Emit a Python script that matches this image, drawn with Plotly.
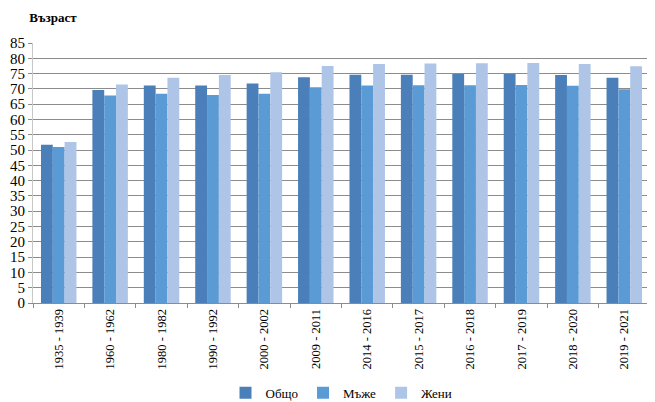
import plotly.graph_objects as go

# periods and life expectancy (years)
periods = ["1935 - 1939", "1960 - 1962", "1980 - 1982", "1990 - 1992",
           "2000 - 2002", "2009 - 2011", "2014 - 2016", "2015 - 2017",
           "2016 - 2018", "2017 - 2019", "2018 - 2020", "2019 - 2021"]
total = [51.7, 69.6, 71.1, 71.1, 71.8, 73.8, 74.6, 74.6, 74.9, 74.9, 74.5, 73.6]
men = [51.0, 67.8, 68.4, 68.0, 68.4, 70.5, 71.1, 71.2, 71.2, 71.3, 71.0, 69.9]
women = [52.6, 71.4, 73.6, 74.5, 75.4, 77.5, 78.1, 78.3, 78.4, 78.5, 78.1, 77.4]
y_ticks = list(range(0, 90, 5))

series = [("Общо", total, "#4a7fb9"),
          ("Мъже", men, "#5b9bd5"),
          ("Жени", women, "#aec5e7")]

fig = go.Figure()
for name, vals, col in series:
    fig.add_trace(go.Bar(name=name, x=periods, y=vals, marker_color=col,
                         marker_line_width=0))

# page body has an 8px margin, so the figure is a bit smaller than the window
serif = "Liberation Serif"
fig.update_layout(
    width=647, height=394,
    margin=dict(l=25, r=5, t=35, b=99, autoexpand=False),
    plot_bgcolor="white", paper_bgcolor="white",
    barmode="group", bargap=0.31, bargroupgap=0,
    font=dict(family=serif, size=12, color="black"),
    title=dict(text="<b>Възраст</b>", x=0.033, xanchor="left",
               y=0.975, yanchor="middle", font=dict(size=13, family=serif)),
    legend=dict(orientation="h", x=0.5, xanchor="center", y=-0.345,
                yanchor="middle", font=dict(size=13, family=serif),
                itemwidth=30, traceorder="normal"),
    showlegend=True,
)
fig.update_xaxes(type="category", tickangle=-90, tickson="boundaries",
                 ticks="outside", ticklen=4, tickcolor="#8c8c8c",
                 showline=True, linecolor="#8c8c8c", showgrid=False,
                 automargin=False, tickfont=dict(size=12.5, family=serif))
fig.update_yaxes(range=[0, 85], tickvals=y_ticks, showgrid=True,
                 gridcolor="#8c8c8c", gridwidth=1, ticks="outside",
                 ticklen=4, tickcolor="#8c8c8c", showline=True,
                 linecolor="#c8c8c8", zeroline=False, automargin=False,
                 tickfont=dict(size=15, family=serif))

fig.write_html("out.html")
